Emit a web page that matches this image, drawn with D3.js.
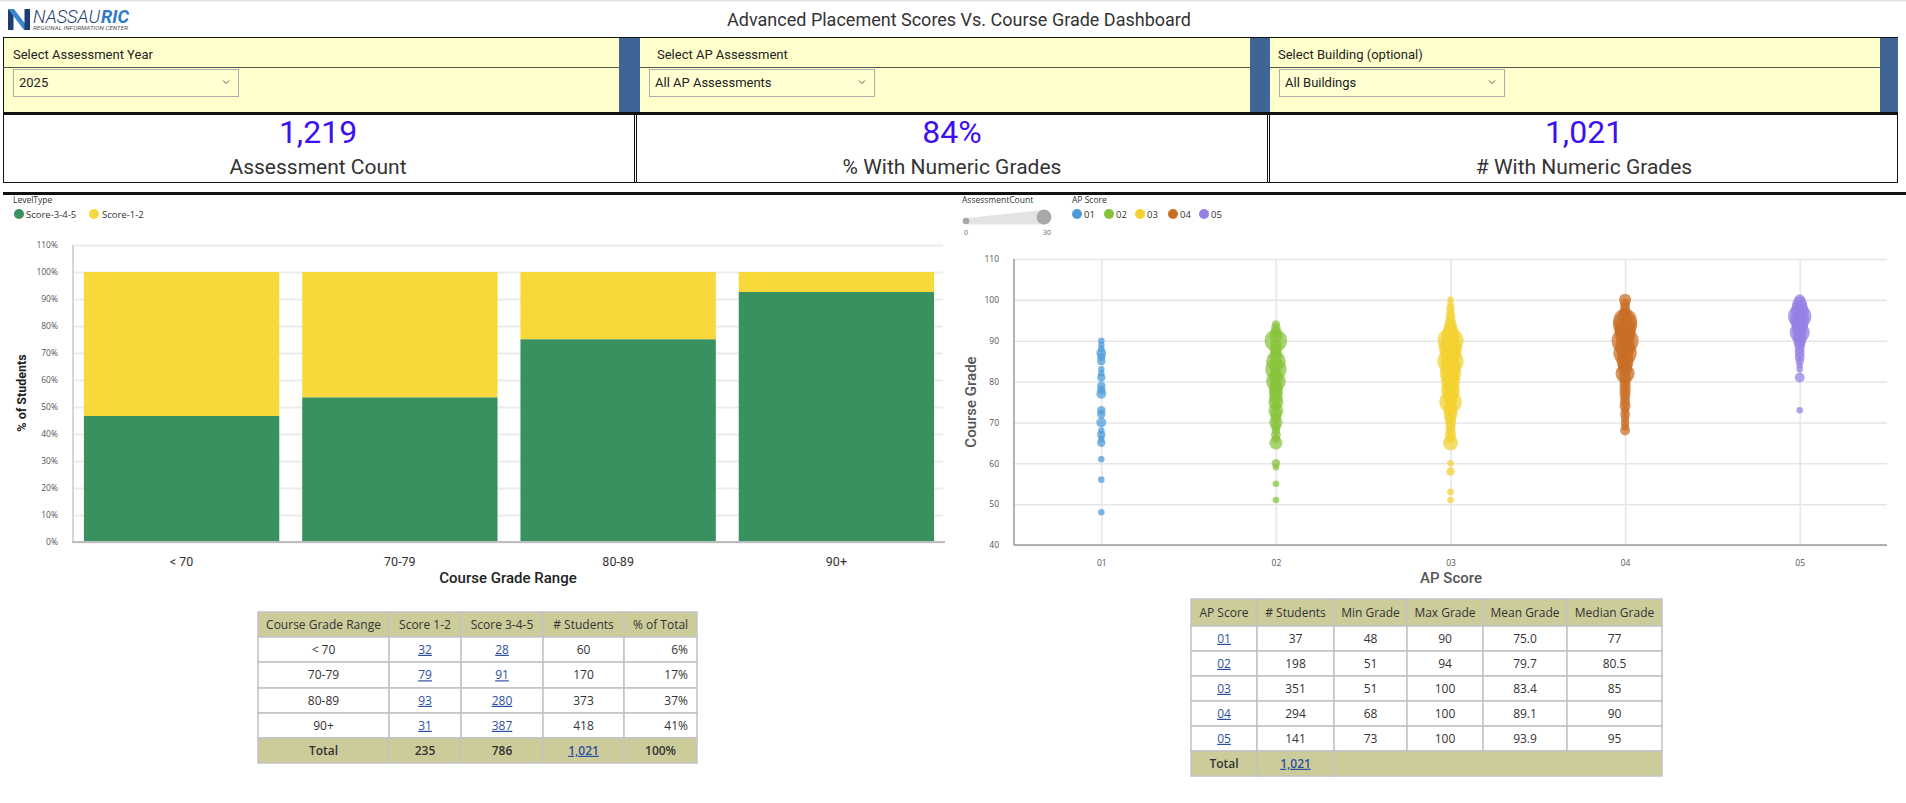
<!DOCTYPE html>
<html><head><meta charset="utf-8">
<script src="https://cdn.jsdelivr.net/npm/d3@7"></script>
<style>
html,body{margin:0;padding:0;background:#fff;overflow:hidden}
svg{display:block}
</style></head><body>
<svg id="c" width="1906" height="803"></svg>
<script>
// ---------------- DATA ----------------
const dashTitle = "Advanced Placement Scores Vs. Course Grade Dashboard";
const filterLabels = ["Select Assessment Year", "Select AP Assessment", "Select Building (optional)"];
const filterValues = ["2025", "All AP Assessments", "All Buildings"];
const kpiValues = ["1,219", "84%", "1,021"];
const kpiLabels = ["Assessment Count", "% With Numeric Grades", "# With Numeric Grades"];

const gradeRanges = ["< 70", "70-79", "80-89", "90+"];
const score12 = [32, 79, 93, 31];
const score345 = [28, 91, 280, 387];
const students = [60, 170, 373, 418];
const pctTotal = ["6%", "17%", "37%", "41%"];
const levelTypes = ["Score-3-4-5", "Score-1-2"];
const pctTicks = [0, 10, 20, 30, 40, 50, 60, 70, 80, 90, 100, 110];

const apScores = ["01", "02", "03", "04", "05"];
const apStudents = [37, 198, 351, 294, 141];
const apMin = [48, 51, 51, 68, 73];
const apMax = [90, 94, 100, 100, 100];
const apMean = ["75.0", "79.7", "83.4", "89.1", "93.9"];
const apMedian = ["77", "80.5", "85", "90", "95"];
const gradeTicks = [40, 50, 60, 70, 80, 90, 100, 110];
const sizeLegend = [0, 30];

// [course grade, assessment count]
const bubbles01 = [[90,1],[89,1],[88,1],[87,3],[86,2],[85,2],[83,1],[82,1],[81,2],[79,2],[78,2],[77,3],[73,2],[72,2],[70,3],[68,1],[67,2],[66,1],[65,2],[61,1],[56,1],[48,1]];
const bubbles02 = [[94,2],[93,3],[92,4],[91,5],[90,20],[89,5],[88,4],[87,5],[86,5],[85,15],[84,5],[83,18],[82,5],[81,7],[80,15],[79,6],[78,7],[77,7],[76,6],[75,8],[74,3],[73,8],[72,5],[71,3],[70,6],[69,3],[68,2],[67,3],[66,2],[65,6],[60,2],[59,1],[55,1],[51,1]];
const bubbles03 = [[100,1],[99,1],[98,2],[97,2],[96,3],[95,3],[94,5],[93,7],[92,10],[91,12],[90,28],[89,15],[88,21],[87,15],[86,14],[85,28],[84,15],[83,14],[82,18],[81,10],[80,14],[79,8],[78,14],[77,10],[76,8],[75,20],[74,6],[73,6],[72,7],[71,4],[70,4],[69,3],[68,3],[67,4],[66,3],[65,8],[60,1],[58,2],[53,1],[51,1]];
const bubbles04 = [[100,5],[99,3],[98,3],[97,4],[96,8],[95,22],[94,24],[93,18],[92,17],[91,14],[90,30],[89,15],[88,14],[87,22],[86,10],[85,11],[84,8],[83,7],[82,14],[81,5],[80,4],[79,4],[78,4],[77,4],[76,3],[75,3],[74,4],[73,2],[72,3],[71,2],[70,2],[69,2],[68,3]];
const bubbles05 = [[100,4],[99,8],[98,10],[97,13],[96,22],[95,14],[94,11],[93,9],[92,16],[91,7],[90,6],[89,4],[88,3],[87,3],[86,3],[85,2],[84,1],[83,1],[81,3],[73,1]];
const bubbleSets = [bubbles01, bubbles02, bubbles03, bubbles04, bubbles05];

// ---------------- STYLE ----------------
const FH = "Roboto, 'Noto Sans', sans-serif";
const FB = "'Open Sans', 'Noto Sans', sans-serif";
const GREEN = "#3A9160", YELLOW = "#F7D93C";
const apColors = ["#4C9BD9", "#86C33A", "#F2D131", "#C96E25", "#9580E4"];
const KHAKI = "#CCCC9A", LINK = "#2F50A2", TXT = "#333";

const svg = d3.select("#c");
function text(g, x, y, s, o = {}) {
  const t = g.append("text").attr("x", x).attr("y", y).text(s)
    .attr("font-family", o.ff || FB).attr("font-size", o.fs || 12)
    .attr("fill", o.fill || TXT).attr("text-anchor", o.anchor || "start");
  if (o.fw) t.attr("font-weight", o.fw);
  if (o.fst) t.attr("font-style", o.fst);
  if (o.tl) t.attr("textLength", o.tl).attr("lengthAdjust", "spacingAndGlyphs");
  if (o.ul) t.style("text-decoration", "underline");
  return t;
}

// ---------------- HEADER ----------------
svg.append("rect").attr("x", 0).attr("y", 0).attr("width", 1906).attr("height", 1.5).attr("fill", "#E2E2E2");
const logo = svg.append("g");
logo.append("path").attr("d", "M8,9 L13.5,9 L13.5,30 L8,30 Z").attr("fill", "#1F3D73");
logo.append("path").attr("d", "M8,9 L14,9 L30,30 L24,30 Z").attr("fill", "#3B86CC");
logo.append("path").attr("d", "M24.5,9 L30,9 L30,30 L24.5,30 Z").attr("fill", "#1F3D73");
text(logo, 33, 23, "NASSAU", { ff: FH, fs: 19, fill: "#1F3D73", fst: "italic", fw: 300, tl: 67 });
text(logo, 101, 23, "RIC", { ff: FH, fs: 19, fill: "#2F7CC6", fst: "italic", fw: 700, tl: 28 });
text(logo, 33, 29.5, "REGIONAL INFORMATION CENTER", { ff: FH, fs: 5.5, fill: "#555", fst: "italic", tl: 95 });

text(svg, 959, 26, dashTitle, { ff: FH, fs: 18, fill: "#333", anchor: "middle" });

// ---------------- FILTER BAR ----------------
const sections = [
  { x: 3, w: 616, lx: 13, ddx: 13 },
  { x: 640, w: 610, lx: 657, ddx: 649 },
  { x: 1270, w: 610, lx: 1278, ddx: 1279 }
];
const blueBars = [[619, 21], [1250, 20], [1880, 18]];
const fb = svg.append("g");
fb.append("rect").attr("x", 3).attr("y", 37).attr("width", 1895).attr("height", 76).attr("fill", "#FFFFCC");
blueBars.forEach(b => fb.append("rect").attr("x", b[0]).attr("y", 37).attr("width", b[1]).attr("height", 76).attr("fill", "#3E6595"));
fb.append("line").attr("x1", 3).attr("x2", 1898).attr("y1", 37.5).attr("y2", 37.5).attr("stroke", "#111");
fb.append("line").attr("x1", 3.5).attr("x2", 3.5).attr("y1", 37).attr("y2", 113).attr("stroke", "#111");
sections.forEach((s, i) => {
  fb.append("line").attr("x1", s.x).attr("x2", s.x + s.w).attr("y1", 67.5).attr("y2", 67.5).attr("stroke", "#555");
  text(fb, s.lx, 59, filterLabels[i], { ff: FH, fs: 13, fill: "#222" });
  fb.append("rect").attr("x", s.ddx + 0.5).attr("y", 69.5).attr("width", 225).attr("height", 27).attr("fill", "#FFFFD2").attr("stroke", "#ADADAD");
  text(fb, s.ddx + 6, 87, filterValues[i], { ff: FH, fs: 13, fill: "#222" });
  const cx = s.ddx + 213, cy = 82;
  fb.append("path").attr("d", `M${cx - 3},${cy - 1.5} L${cx},${cy + 1.5} L${cx + 3},${cy - 1.5}`).attr("fill", "none").attr("stroke", "#555").attr("stroke-width", 1);
});
fb.append("rect").attr("x", 3).attr("y", 112).attr("width", 1895).attr("height", 3).attr("fill", "#111");

// ---------------- KPI ROW ----------------
const kpi = svg.append("g");
const kpiCenters = [318, 952, 1584];
kpi.append("line").attr("x1", 3).attr("x2", 1898).attr("y1", 182.5).attr("y2", 182.5).attr("stroke", "#111");
[3.5, 634.5, 636.5, 1267.5, 1269.5, 1897.5].forEach(x =>
  kpi.append("line").attr("x1", x).attr("x2", x).attr("y1", 115).attr("y2", 183).attr("stroke", "#111"));
kpiValues.forEach((v, i) => {
  text(kpi, kpiCenters[i], 143, v, { ff: FH, fs: 32, fill: "#3D0FF2", anchor: "middle" });
  text(kpi, kpiCenters[i], 174, kpiLabels[i], { ff: FH, fs: 21, fill: "#333", anchor: "middle" });
});
svg.append("rect").attr("x", 3).attr("y", 192).attr("width", 1903).attr("height", 3).attr("fill", "#111");

// ---------------- LEFT CHART ----------------
const gL = svg.append("g");
text(gL, 13, 203, "LevelType", { fs: 8.5, fill: "#333" });
const legL = [[19, 26], [94, 102]];
levelTypes.forEach((t, i) => {
  gL.append("circle").attr("cx", legL[i][0]).attr("cy", 214).attr("r", 5).attr("fill", i === 0 ? GREEN : YELLOW);
  text(gL, legL[i][1], 217.5, t, { fs: 9.5, fill: "#333" });
});
const yL = d3.scaleLinear().domain([0, 110]).range([542, 245]);
const xL = d3.scaleBand().domain(gradeRanges).range([73, 945]).paddingInner(0.105).paddingOuter(0.05);
gL.append("g").attr("transform", "translate(73,0)")
  .call(d3.axisLeft(yL).tickValues(pctTicks).tickSize(-870).tickFormat(""))
  .call(g => g.select(".domain").remove())
  .call(g => g.selectAll("line").attr("stroke", "#EBEBEB").attr("stroke-width", 2));
const pct345 = score345.map((v, i) => v / students[i] * 100);
const barG = gL.selectAll("g.bar").data(gradeRanges).join("g").attr("class", "bar");
barG.append("rect").attr("x", d => xL(d)).attr("width", xL.bandwidth())
  .attr("y", yL(100)).attr("height", (d, i) => yL(pct345[i]) - yL(100)).attr("fill", YELLOW);
barG.append("rect").attr("x", d => xL(d)).attr("width", xL.bandwidth())
  .attr("y", (d, i) => yL(pct345[i])).attr("height", (d, i) => yL(0) - yL(pct345[i])).attr("fill", GREEN);
gL.append("line").attr("x1", 73).attr("x2", 73).attr("y1", 245).attr("y2", 542).attr("stroke", "#D6D6D6").attr("stroke-width", 2);
gL.append("line").attr("x1", 72).attr("x2", 945).attr("y1", 542).attr("y2", 542).attr("stroke", "#BDBDBD").attr("stroke-width", 2);
gL.append("g").attr("transform", "translate(73,0)")
  .call(d3.axisLeft(yL).tickValues(pctTicks).tickSize(0).tickPadding(15).tickFormat(d => d + "%"))
  .call(g => g.select(".domain").remove())
  .call(g => g.selectAll("text").attr("font-family", FB).attr("font-size", 8.5).attr("fill", "#555"));
gL.append("g").attr("transform", "translate(0,542)")
  .call(d3.axisBottom(xL).tickSize(0).tickPadding(15))
  .call(g => g.select(".domain").remove())
  .call(g => g.selectAll("text").attr("font-family", FH).attr("font-size", 12.5).attr("fill", "#333"));
text(gL, 508, 583, "Course Grade Range", { ff: FH, fs: 15, fw: 500, fill: "#222", anchor: "middle" });
text(gL, 0, 0, "% of Students", { ff: FH, fs: 12.5, fw: 700, fill: "#222", anchor: "middle" })
  .attr("transform", "translate(26,393) rotate(-90)");

// ---------------- RIGHT CHART ----------------
const gR = svg.append("g");
text(gR, 962, 203, "AssessmentCount", { fs: 8.5, fill: "#333" });
gR.append("path").attr("d", "M966,218 L1044,210 L1044,224.5 L966,224.5 Z").attr("fill", "#E3E3E3");
gR.append("circle").attr("cx", 966).attr("cy", 221).attr("r", 3.3).attr("fill", "#A8A8A8");
gR.append("circle").attr("cx", 1044).attr("cy", 217).attr("r", 7.4).attr("fill", "#A8A8A8");
text(gR, 966, 234.5, String(sizeLegend[0]), { fs: 7, fill: "#666", anchor: "middle" });
text(gR, 1047, 234.5, String(sizeLegend[1]), { fs: 7, fill: "#666", anchor: "middle" });
text(gR, 1072, 203, "AP Score", { fs: 8.5, fill: "#333" });
const legRx = [1077, 1109, 1140, 1173, 1204];
apScores.forEach((s, i) => {
  gR.append("circle").attr("cx", legRx[i]).attr("cy", 214).attr("r", 5).attr("fill", apColors[i]);
  text(gR, legRx[i] + 7, 217.5, s, { fs: 9.5, fill: "#333" });
});
const yR = d3.scaleLinear().domain([40, 110]).range([545, 259]);
const xR = d3.scalePoint().domain(apScores).range([1014, 1887]).padding(0.5);
const rR = d3.scaleSqrt().domain([0, 30]).range([1.0, 13.5]);
gR.append("g").attr("transform", "translate(1014,0)")
  .call(d3.axisLeft(yR).tickValues(gradeTicks).tickSize(-873).tickFormat(""))
  .call(g => g.select(".domain").remove())
  .call(g => g.selectAll("line").attr("stroke", "#E6E6E6").attr("stroke-width", 1.5));
gR.append("g").attr("transform", "translate(0,545)")
  .call(d3.axisBottom(xR).tickSize(-286).tickFormat(""))
  .call(g => g.select(".domain").remove())
  .call(g => g.selectAll("line").attr("stroke", "#E6E6E6").attr("stroke-width", 1.5));
apScores.forEach((s, i) => {
  const data = bubbleSets[i].slice().sort((a, b) => b[1] - a[1]);
  gR.append("g").selectAll("circle").data(data).join("circle")
    .attr("cx", xR(s)).attr("cy", d => yR(d[0])).attr("r", d => rR(d[1]))
    .attr("fill", apColors[i]).attr("fill-opacity", 0.72);
});
gR.append("line").attr("x1", 1014).attr("x2", 1014).attr("y1", 259).attr("y2", 545).attr("stroke", "#9A9A9A").attr("stroke-width", 1.5);
gR.append("line").attr("x1", 1014).attr("x2", 1887).attr("y1", 545).attr("y2", 545).attr("stroke", "#9A9A9A").attr("stroke-width", 1.5);
gR.append("g").attr("transform", "translate(1014,0)")
  .call(d3.axisLeft(yR).tickValues(gradeTicks).tickSize(0).tickPadding(15))
  .call(g => g.select(".domain").remove())
  .call(g => g.selectAll("text").attr("font-family", FB).attr("font-size", 8.5).attr("fill", "#555"));
gR.append("g").attr("transform", "translate(0,545)")
  .call(d3.axisBottom(xR).tickSize(0).tickPadding(15))
  .call(g => g.select(".domain").remove())
  .call(g => g.selectAll("text").attr("font-family", FB).attr("font-size", 8.5).attr("fill", "#555"));
text(gR, 1451, 583, "AP Score", { ff: FH, fs: 15, fw: 500, fill: "#555", anchor: "middle" });
text(gR, 0, 0, "Course Grade", { ff: FH, fs: 15, fw: 500, fill: "#555", anchor: "middle" })
  .attr("transform", "translate(976,402) rotate(-90)");

// ---------------- TABLES ----------------
function drawTable(colX, rowY, cells) {
  const g = svg.append("g");
  cells.forEach(c => {
    const x0 = colX[c.c], x1 = colX[c.c2 !== undefined ? c.c2 + 1 : c.c + 1];
    const y0 = rowY[c.r], y1 = rowY[c.r + 1];
    g.append("rect").attr("x", x0).attr("y", y0).attr("width", x1 - x0).attr("height", y1 - y0)
      .attr("fill", c.fill || "#fff").attr("stroke", "#C2C2C2").attr("stroke-width", 1.5);
    if (c.t !== undefined && c.t !== "") {
      const ax = c.align === "end" ? x1 - 9 : (x0 + x1) / 2;
      text(g, ax, (y0 + y1) / 2 + 4.3, c.t, {
        fs: 12, fill: c.link ? LINK : TXT, anchor: c.align || "middle",
        fw: c.bold ? 600 : null, ul: c.link
      });
    }
  });
}
const fmt = d3.format(",");
const ltCols = [258, 389, 461, 543, 624, 697];
const ltRows = [612, 637, 662, 688, 713, 738, 763];
const ltHead = ["Course Grade Range", "Score 1-2", "Score 3-4-5", "# Students", "% of Total"];
const ltCells = [];
ltHead.forEach((h, c) => ltCells.push({ r: 0, c, t: h, fill: KHAKI }));
gradeRanges.forEach((g, i) => {
  ltCells.push({ r: i + 1, c: 0, t: g });
  ltCells.push({ r: i + 1, c: 1, t: String(score12[i]), link: true });
  ltCells.push({ r: i + 1, c: 2, t: String(score345[i]), link: true });
  ltCells.push({ r: i + 1, c: 3, t: String(students[i]) });
  ltCells.push({ r: i + 1, c: 4, t: pctTotal[i], align: "end" });
});
ltCells.push({ r: 5, c: 0, t: "Total", fill: KHAKI, bold: true });
ltCells.push({ r: 5, c: 1, t: fmt(d3.sum(score12)), fill: KHAKI, bold: true });
ltCells.push({ r: 5, c: 2, t: fmt(d3.sum(score345)), fill: KHAKI, bold: true });
ltCells.push({ r: 5, c: 3, t: fmt(d3.sum(students)), fill: KHAKI, bold: true, link: true });
ltCells.push({ r: 5, c: 4, t: "100%", fill: KHAKI, bold: true });
drawTable(ltCols, ltRows, ltCells);

const rtCols = [1191, 1257, 1334, 1407, 1483, 1567, 1662];
const rtRows = [599, 626, 651, 676, 701, 726, 751, 776];
const rtHead = ["AP Score", "# Students", "Min Grade", "Max Grade", "Mean Grade", "Median Grade"];
const rtCells = [];
rtHead.forEach((h, c) => rtCells.push({ r: 0, c, t: h, fill: KHAKI }));
apScores.forEach((s, i) => {
  rtCells.push({ r: i + 1, c: 0, t: s, link: true });
  rtCells.push({ r: i + 1, c: 1, t: String(apStudents[i]) });
  rtCells.push({ r: i + 1, c: 2, t: String(apMin[i]) });
  rtCells.push({ r: i + 1, c: 3, t: String(apMax[i]) });
  rtCells.push({ r: i + 1, c: 4, t: apMean[i] });
  rtCells.push({ r: i + 1, c: 5, t: apMedian[i] });
});
rtCells.push({ r: 6, c: 0, t: "Total", fill: KHAKI, bold: true });
rtCells.push({ r: 6, c: 1, t: fmt(d3.sum(apStudents)), fill: KHAKI, bold: true, link: true });
rtCells.push({ r: 6, c: 2, c2: 5, t: "", fill: KHAKI });
drawTable(rtCols, rtRows, rtCells);
</script>
</body></html>
